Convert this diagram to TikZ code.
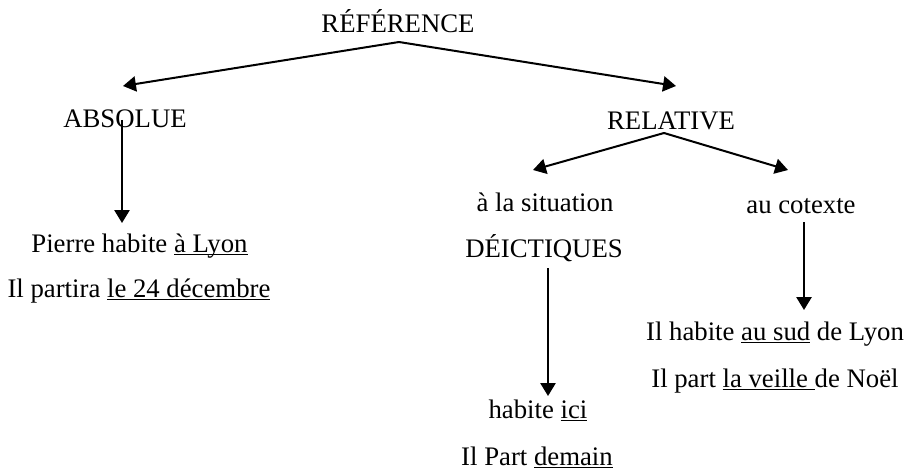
\documentclass[tikz,border=0pt,12pt]{standalone}
\usepackage{fontspec}
\setmainfont{Liberation Serif}
\usetikzlibrary{arrows.meta, positioning}

% underline at a fixed depth below the baseline
\newsavebox\ulbox
\newcommand{\souligne}[1]{\sbox\ulbox{#1}\rlap{\rule[-1.5pt]{\wd\ulbox}{0.6pt}}\usebox\ulbox}

\begin{document}
\begin{tikzpicture}[x=0.4486pt, y=-0.4486pt,
  every node/.style={font=\fontsize{12}{14}\selectfont, anchor=base, inner sep=0pt},
  arr/.style={-{Triangle[length=5.8pt, width=6.8pt]}, line width=0.9pt, black}]
\useasboundingbox (0,0) rectangle (911,470);

% ===== TOP =====
\node (ref) at (398,33) {RÉFÉRENCE};
\node (abs) at (125,127.5) {ABSOLUE};
\node (rel) at (671,130) {RELATIVE};

\coordinate (refApex) at (399,42);
\coordinate (absTip) at (123,86);
\coordinate (relTip) at (676,86);
\draw[arr] (refApex) -- (absTip);
\draw[arr] (refApex) -- (relTip);

% ===== ABSOLUE branch =====
\node (absA) at (139.5,252) {Pierre habite \souligne{à Lyon}};
\node (absB) at (139,297) {Il partira \souligne{le 24 décembre}};

\coordinate (absTop) at (122,120);
\coordinate (absEnd) at (122,223);
\draw[arr] (absTop) -- (absEnd);

% ===== RELATIVE branch =====
\node (sit) at (545,211) {à la situation};
\node (deic) at (544,257) {DÉICTIQUES};
\node (cot) at (801,213) {au cotexte};

\coordinate (relApex) at (664,133);
\coordinate (sitTip) at (533,170);
\coordinate (cotTip) at (788,170);
\draw[arr] (relApex) -- (sitTip);
\draw[arr] (relApex) -- (cotTip);

% deictic examples
\node (deicA) at (538,418) {habite \souligne{ici}};
\node (deicB) at (537,465) {Il Part \souligne{demain}};

\coordinate (deicTop) at (548,268);
\coordinate (deicEnd) at (548,396);
\draw[arr] (deicTop) -- (deicEnd);

% cotext examples
\node (cotA) at (775,340) {Il habite \souligne{au sud} de Lyon};
\node (cotB) at (775,387) {Il part \souligne{la veille }de Noël};

\coordinate (cotTop) at (804,222);
\coordinate (cotEnd) at (804,310);
\draw[arr] (cotTop) -- (cotEnd);

\end{tikzpicture}
\end{document}
